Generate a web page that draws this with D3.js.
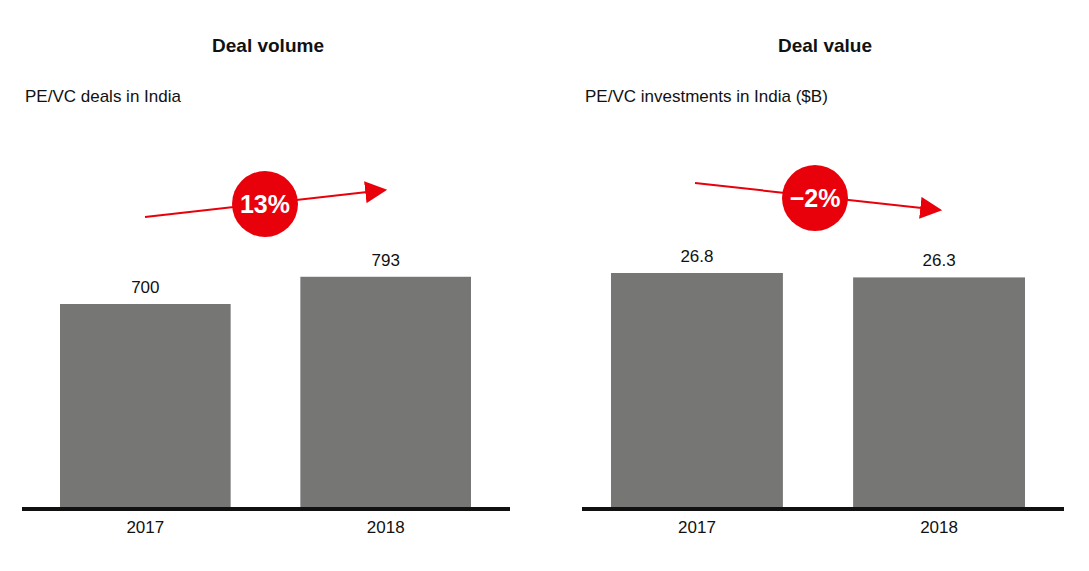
<!DOCTYPE html>
<html><head><meta charset="utf-8">
<script src="https://cdn.jsdelivr.net/npm/d3@7"></script>
<style>body{margin:0;background:#fff;font-family:Arial,"Liberation Sans",sans-serif}</style>
</head><body>
<script>
const years = ["2017", "2018"];
const dealVolume = [700, 793];
const dealValue = [26.8, 26.3];
const panels = [
  {title: "Deal volume", sub: "PE/VC deals in India", values: dealVolume, growth: "13%", x0: 22, x1: 510, b0: 60, b1: 471, pxPerUnit: 205 / 700, fmt: d => d,
   arrow: [[145, 217], [385, 190]], circle: [265, 204]},
  {title: "Deal value", sub: "PE/VC investments in India ($B)", values: dealValue, growth: "\u22122%", x0: 582, x1: 1064, b0: 611, b1: 1025, pxPerUnit: 236 / 26.8, fmt: d => d.toFixed(1),
   arrow: [[695, 183], [940, 210]], circle: [815, 198]}
];
const baseY = 509;

const svg = d3.select("body").append("svg").attr("width", 1089).attr("height", 571);
svg.append("defs").append("marker").attr("id", "ah").attr("viewBox", "0 0 10 10").attr("refX", 9).attr("refY", 5)
  .attr("markerWidth", 22).attr("markerHeight", 22).attr("markerUnits", "userSpaceOnUse").attr("orient", "auto")
  .append("path").attr("d", "M0,0L10,5L0,10Z").attr("fill", "#e8000b");

panels.forEach(p => {
  const g = svg.append("g");
  const x = d3.scaleBand().domain(years).range([p.b0, p.b1]).paddingInner(0.29).paddingOuter(0);
  const top = d3.max(p.values) * 1.3;
  const y = d3.scaleLinear().domain([0, top]).range([baseY, baseY - top * p.pxPerUnit]);

  g.append("text").attr("x", (p.x0 + p.x1) / 2 + 2).attr("y", 52).attr("text-anchor", "middle")
    .attr("font-size", 19).attr("font-weight", "bold").attr("fill", "#111").text(p.title);
  g.append("text").attr("x", p.x0 + 3).attr("y", 102).attr("font-size", 17).attr("fill", "#111").text(p.sub);

  g.selectAll("rect").data(p.values).enter().append("rect")
    .attr("x", (d, i) => x(years[i])).attr("width", x.bandwidth())
    .attr("y", d => y(d)).attr("height", d => baseY - y(d)).attr("fill", "#767775");
  g.selectAll(".val").data(p.values).enter().append("text")
    .attr("x", (d, i) => x(years[i]) + x.bandwidth() / 2).attr("y", d => y(d) - 11)
    .attr("text-anchor", "middle").attr("font-size", 17).attr("fill", "#111").text(p.fmt);

  const axis = g.append("g").attr("transform", `translate(0,${baseY})`)
    .call(d3.axisBottom(x).tickSize(0).tickPadding(12));
  axis.select(".domain").remove();
  axis.selectAll("text").attr("font-size", 17).attr("fill", "#111").attr("font-family", "Arial,'Liberation Sans',sans-serif");
  g.append("line").attr("x1", p.x0).attr("x2", p.x1).attr("y1", baseY).attr("y2", baseY)
    .attr("stroke", "#111").attr("stroke-width", 4);

  g.append("line").attr("x1", p.arrow[0][0]).attr("y1", p.arrow[0][1])
    .attr("x2", p.arrow[1][0]).attr("y2", p.arrow[1][1])
    .attr("stroke", "#e8000b").attr("stroke-width", 2).attr("marker-end", "url(#ah)");
  g.append("circle").attr("cx", p.circle[0]).attr("cy", p.circle[1]).attr("r", 33).attr("fill", "#e8000b");
  g.append("text").attr("x", p.circle[0]).attr("y", p.circle[1] + 9).attr("text-anchor", "middle")
    .attr("font-size", 25).attr("font-weight", "bold").attr("fill", "#fff").text(p.growth);
});
</script>
</body></html>
